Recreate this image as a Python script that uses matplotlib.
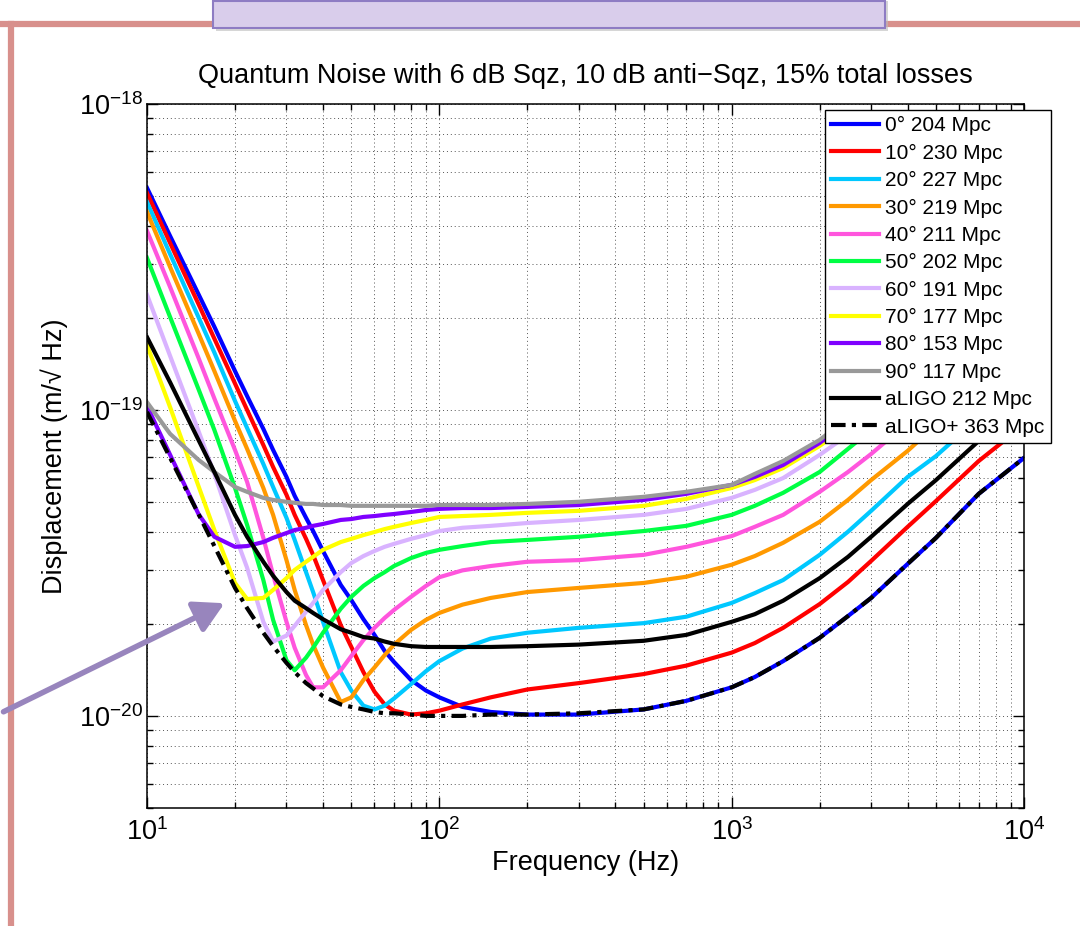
import matplotlib
matplotlib.use('Agg')
import matplotlib.pyplot as plt
from matplotlib.ticker import LogLocator, NullFormatter
from matplotlib.patches import Rectangle, FancyArrowPatch
from matplotlib.lines import Line2D

plt.rcParams['font.family'] = ['Liberation Sans', 'DejaVu Sans']
plt.rcParams['mathtext.fontset'] = 'custom'
plt.rcParams['mathtext.rm'] = 'Liberation Sans'
plt.rcParams['mathtext.it'] = 'Liberation Sans:italic'
plt.rcParams['mathtext.bf'] = 'Liberation Sans:bold'

# frequency points (Hz)
freq = [10, 12, 15, 17, 20, 22, 25, 27, 30, 32, 35, 37, 40, 46, 50, 55, 60, 65, 70, 80,
        90, 100, 120, 150, 200, 300, 500, 700, 1000, 1200, 1500, 2000, 2500, 3000, 4000, 5000, 7000, 10000]

# displacement noise, in units of 1e-20 m/sqrt(Hz)
sqz_0 = [53.2, 37.0, 23.9, 18.7, 13.4, 11.1, 8.67, 7.40, 6.04, 5.24, 4.44, 4.02, 3.46, 2.68, 2.39, 2.07, 1.84, 1.63,
         1.50, 1.31, 1.21, 1.15, 1.07, 1.03, 1.01, 1.01, 1.05, 1.12, 1.24, 1.34, 1.51, 1.80, 2.12, 2.43, 3.14, 3.82,
         5.32, 6.97]
sqz_10 = [51.2, 35.1, 22.2, 17.1, 12.2, 10.0, 7.68, 6.51, 5.28, 4.54, 3.79, 3.36, 2.78, 1.98, 1.68, 1.39, 1.20, 1.09,
          1.04, 1.01, 1.02, 1.04, 1.09, 1.15, 1.22, 1.28, 1.37, 1.46, 1.61, 1.73, 1.94, 2.32, 2.74, 3.21, 4.15, 5.04,
          6.81, 8.93]
sqz_20 = [47.8, 32.3, 20.1, 15.4, 10.7, 8.73, 6.66, 5.60, 4.44, 3.76, 2.95, 2.54, 2.03, 1.39, 1.21, 1.08, 1.05, 1.08,
          1.14, 1.27, 1.40, 1.51, 1.66, 1.79, 1.87, 1.94, 2.01, 2.11, 2.34, 2.52, 2.78, 3.36, 4.00, 4.68, 6.04, 7.07,
          9.42, 12.1]
sqz_30 = [44.4, 29.3, 17.8, 13.4, 9.21, 7.46, 5.56, 4.54, 3.23, 2.58, 1.98, 1.71, 1.44, 1.11, 1.15, 1.31, 1.44, 1.58,
          1.71, 1.91, 2.06, 2.17, 2.31, 2.43, 2.54, 2.62, 2.72, 2.85, 3.12, 3.33, 3.68, 4.31, 5.08, 5.90, 7.35, 8.93,
          11.6, 15.1]
sqz_40 = [38.5, 25.2, 14.8, 10.9, 7.40, 5.82, 3.82, 2.89, 2.03, 1.67, 1.36, 1.24, 1.24, 1.41, 1.57, 1.77, 1.94, 2.09,
          2.22, 2.45, 2.66, 2.84, 2.99, 3.09, 3.19, 3.23, 3.36, 3.57, 3.87, 4.15, 4.54, 5.40, 6.27, 7.18, 9.07, 10.8,
          14.0, 18.3]
sqz_50 = [31.4, 20.1, 11.7, 8.60, 5.56, 4.21, 2.78, 2.06, 1.52, 1.41, 1.55, 1.67, 1.87, 2.24, 2.45, 2.66, 2.82, 2.95,
          3.09, 3.28, 3.41, 3.49, 3.59, 3.70, 3.76, 3.85, 4.02, 4.18, 4.54, 4.86, 5.36, 6.27, 7.46, 8.60, 10.7, 12.5,
          16.3, 21.2]
sqz_60 = [23.8, 15.0, 8.54, 6.18, 3.90, 3.05, 2.03, 1.75, 1.83, 1.97, 2.19, 2.34, 2.58, 2.95, 3.16, 3.33, 3.46, 3.57,
          3.65, 3.79, 3.90, 4.02, 4.12, 4.18, 4.27, 4.37, 4.54, 4.75, 5.16, 5.48, 5.99, 7.13, 8.29, 9.42, 11.5, 13.5,
          17.6, 22.9]
sqz_70 = [16.3, 10.2, 5.64, 4.05, 2.72, 2.41, 2.43, 2.58, 2.82, 3.00, 3.19, 3.31, 3.49, 3.70, 3.79, 3.90, 3.99, 4.08,
          4.15, 4.27, 4.37, 4.47, 4.50, 4.54, 4.61, 4.68, 4.86, 5.12, 5.56, 5.90, 6.46, 7.63, 8.87, 10.0, 12.3, 14.6,
          19.0, 24.7]
sqz_80 = [10.3, 7.13, 4.57, 3.85, 3.57, 3.59, 3.70, 3.82, 3.96, 4.05, 4.12, 4.18, 4.24, 4.37, 4.40, 4.47, 4.50, 4.54,
          4.57, 4.64, 4.71, 4.75, 4.78, 4.78, 4.82, 4.89, 5.08, 5.32, 5.69, 6.04, 6.61, 7.80, 9.14, 10.4, 12.8, 15.1,
          19.7, 25.6]
sqz_90 = [10.6, 8.35, 6.87, 6.27, 5.60, 5.40, 5.16, 5.08, 5.01, 4.97, 4.93, 4.93, 4.89, 4.89, 4.86, 4.86, 4.86, 4.86,
          4.86, 4.86, 4.86, 4.89, 4.89, 4.89, 4.93, 5.01, 5.20, 5.40, 5.69, 6.18, 6.81, 7.98, 9.42, 10.8, 13.3, 15.7,
          20.4, 26.6]
aligo = [17.3, 12.3, 7.98, 6.27, 4.54, 3.85, 3.19, 2.87, 2.54, 2.38, 2.25, 2.17, 2.07, 1.92, 1.87, 1.81, 1.79, 1.75,
         1.72, 1.69, 1.68, 1.68, 1.68, 1.68, 1.69, 1.71, 1.76, 1.84, 2.03, 2.15, 2.38, 2.82, 3.31, 3.85, 4.93, 5.90,
         7.92, 10.4]
aligo_plus = [9.85, 6.97, 4.57, 3.59, 2.62, 2.25, 1.87, 1.69, 1.49, 1.39, 1.28, 1.23, 1.16, 1.09, 1.07, 1.05, 1.03, 1.02,
              1.02, 1.01, 1.00, 1.00, 1.00, 1.01, 1.01, 1.02, 1.05, 1.12, 1.24, 1.34, 1.51, 1.80, 2.12, 2.43, 3.14,
              3.82, 5.32, 6.97]

angle_curves = [sqz_0, sqz_10, sqz_20, sqz_30, sqz_40, sqz_50, sqz_60, sqz_70, sqz_80, sqz_90]
labels = ['0° 204 Mpc', '10° 230 Mpc', '20° 227 Mpc', '30° 219 Mpc', '40° 211 Mpc', '50° 202 Mpc',
          '60° 191 Mpc', '70° 177 Mpc', '80° 153 Mpc', '90° 117 Mpc', 'aLIGO 212 Mpc', 'aLIGO+ 363 Mpc']
colors = ['#0000FF', '#FF0000', '#00C8FF', '#FF9900', '#FF55DD', '#00FF44',
          '#D9B3FF', '#FFFF00', '#7F00FF', '#999999']

scale = 1e-20
W, H = 1080, 926

fig = plt.figure(figsize=(10.8, 9.26), dpi=100)
ax = fig.add_axes([147 / W, 118 / H, 877 / W, 704 / H])

for vals, c, lab in zip(angle_curves, colors, labels):
    ax.loglog(freq, [v * scale for v in vals], color=c, lw=3, label=lab)
ax.loglog(freq, [v * scale for v in aligo], color='k', lw=3, label=labels[10])
ax.loglog(freq, [v * scale for v in aligo_plus], color='k', lw=3, label=labels[11],
          linestyle=(0, (3.5, 1.5, 1, 1.5)))

ax.set_xlim(10, 1e4)
ax.set_ylim(5e-21, 1e-18)
ax.set_xticks([1e1, 1e2, 1e3, 1e4])
ax.set_yticks([1e-20, 1e-19, 1e-18])
ax.xaxis.set_minor_locator(LogLocator(base=10, subs=range(2, 10)))
ax.yaxis.set_minor_locator(LogLocator(base=10, subs=range(2, 10)))
ax.xaxis.set_minor_formatter(NullFormatter())
ax.yaxis.set_minor_formatter(NullFormatter())

ax.grid(True, which='major', color='#555555', lw=0.7, linestyle=(0, (1, 3)))
ax.grid(True, which='minor', color='#555555', lw=0.7, linestyle=(0, (1, 3)))
ax.tick_params(which='both', direction='in', top=True, right=True, labelsize=19.5, width=1)
ax.tick_params(which='major', length=8)
ax.tick_params(axis='x', which='major', pad=7)
ax.tick_params(axis='y', which='major', pad=3)
ax.tick_params(which='minor', length=4)
for s in ax.spines.values():
    s.set_linewidth(1.1)

ax.set_title('Quantum Noise with 6 dB Sqz, 10 dB anti\u2212Sqz, 15% total losses', fontsize=19.5, pad=15)
ax.set_xlabel('Frequency (Hz)', fontsize=19.5, labelpad=3)
ax.set_ylabel('Displacement (m/\u221a Hz)', fontsize=19.5, labelpad=8)

leg = ax.legend(loc='upper left', bbox_to_anchor=(825 / W, 1 - 110 / H), bbox_transform=fig.transFigure,
                fancybox=False, framealpha=1, edgecolor='k', fontsize=15, handlelength=2.3,
                handletextpad=0.3, labelspacing=0.4, borderpad=0.3, borderaxespad=0)
leg.get_frame().set_linewidth(1.0)
leg.set_zorder(10)

# slide decoration: frame lines, title box, arrow
fig.add_artist(Line2D([0, 1], [1 - 24 / H, 1 - 24 / H], color='#D8908C', lw=4.5, zorder=0))
fig.add_artist(Line2D([11 / W, 11 / W], [1 / H, 1 - 24 / H], color='#D8908C', lw=4.5, zorder=0))
fig.add_artist(Rectangle((216 / W, 1 - 31 / H), 672 / W, 30 / H, facecolor='#BBBBBB', edgecolor='none',
                         alpha=0.6, zorder=1))
fig.add_artist(Rectangle((213 / W, 1 - 28 / H), 672 / W, 27 / H, facecolor='#D9CDEB', edgecolor='#8E7CC3',
                         lw=1.5, zorder=2))
arrow = FancyArrowPatch((1 / W, 1 - 713 / H), (227 / W, 1 - 602 / H), transform=fig.transFigure,
                        arrowstyle='-|>,head_length=0.9,head_width=0.5', mutation_scale=20,
                        color='#9885BD', lw=4, zorder=5)
fig.add_artist(arrow)

fig.savefig('out.png', dpi=100)
